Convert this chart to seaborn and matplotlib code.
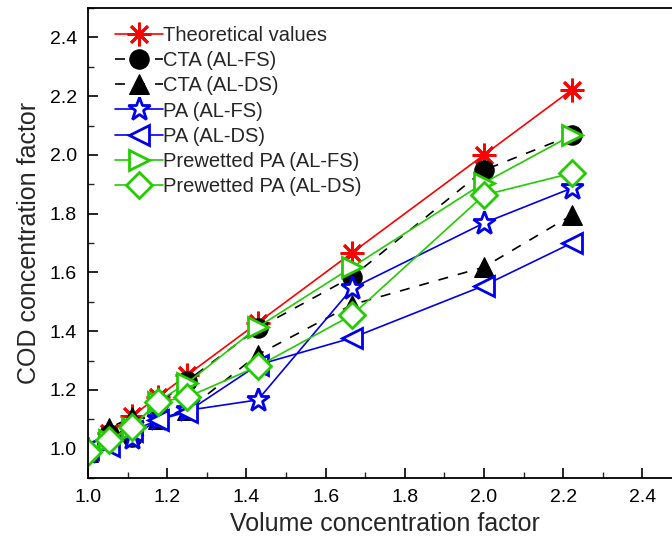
import matplotlib
matplotlib.use("Agg")
import matplotlib.pyplot as plt
import seaborn as sns
import pandas as pd
from matplotlib.ticker import MultipleLocator

sns.set_theme(style="ticks")
plt.rcParams['font.family'] = ['Liberation Sans', 'DejaVu Sans']

vcf = [1.0, 1.053, 1.111, 1.176, 1.25, 1.429, 1.667, 2.0, 2.222]
theoretical = [1.0, 1.053, 1.111, 1.176, 1.25, 1.429, 1.667, 2.0, 2.222]
cta_fs = [0.99, 1.05, 1.04, 1.15, 1.23, 1.41, 1.585, 1.948, 2.067]
cta_ds = [0.99, 1.07, 1.107, 1.10, 1.13, 1.32, 1.49, 1.618, 1.795]
pa_fs = [0.99, 1.03, 1.035, 1.10, 1.13, 1.166, 1.546, 1.768, 1.887]
pa_ds = [1.0, 1.01, 1.06, 1.097, 1.125, 1.285, 1.377, 1.555, 1.70]
pw_fs = [0.99, 1.03, 1.07, 1.16, 1.223, 1.414, 1.618, 1.905, 2.067]
pw_ds = [0.99, 1.03, 1.074, 1.158, 1.175, 1.28, 1.455, 1.863, 1.938]

series = [
    ("Theoretical values", theoretical, dict(color="red", marker=(8, 2, 0), markersize=17, mew=2.0, linestyle="-", mfc="red", mec="red")),
    ("CTA (AL-FS)", cta_fs, dict(color="black", marker="o", markersize=14, linestyle=(0, (6, 6)), mfc="black", mec="black")),
    ("CTA (AL-DS)", cta_ds, dict(color="black", marker="^", markersize=15, linestyle=(0, (6, 6)), mfc="black", mec="black")),
    ("PA (AL-FS)", pa_fs, dict(color="#0000ee", marker="*", markersize=17, linestyle="-", mfc="white", mec="#0000ee", mew=2.0)),
    ("PA (AL-DS)", pa_ds, dict(color="#0000ee", marker="<", markersize=15, linestyle="-", mfc="white", mec="#0000ee", mew=2.0)),
    ("Prewetted PA (AL-FS)", pw_fs, dict(color="#22cc00", marker=">", markersize=15, linestyle="-", mfc="white", mec="#22cc00", mew=2.0)),
    ("Prewetted PA (AL-DS)", pw_ds, dict(color="#22cc00", marker="D", markersize=13, linestyle="-", mfc="white", mec="#22cc00", mew=2.0)),
]

fig = plt.figure(figsize=(6.72, 5.41), dpi=100)
ax = fig.add_axes([88/672, 63/541, 594/672, 470/541])

for label, vals, kw in series:
    df = pd.DataFrame({"x": vcf, "y": vals})
    sns.lineplot(data=df, x="x", y="y", ax=ax, label=label, linewidth=1.2,
                 sort=False, estimator=None, **kw)

ax.set_xlim(1.0, 2.5)
ax.set_ylim(0.9, 2.5)
ax.set_xticks([1.0, 1.2, 1.4, 1.6, 1.8, 2.0, 2.2, 2.4])
ax.set_yticks([1.0, 1.2, 1.4, 1.6, 1.8, 2.0, 2.2, 2.4])
ax.xaxis.set_minor_locator(MultipleLocator(0.1))
ax.yaxis.set_minor_locator(MultipleLocator(0.1))
ax.tick_params(which="major", direction="in", length=7, width=1.2, labelsize=14,
               colors="black", pad=8)
ax.tick_params(which="minor", direction="in", length=4, width=1.0)
for s in ax.spines.values():
    s.set_linewidth(1.3)
    s.set_color("black")
ax.set_xlabel("Volume concentration factor", fontsize=18, labelpad=4)
ax.set_ylabel("COD concentration factor", fontsize=18, labelpad=6)
ax.legend(loc="upper left", frameon=False, fontsize=14.5, handlelength=2.4,
          labelspacing=0.3, handletextpad=0.0, borderaxespad=0.0,
          bbox_to_anchor=(0.032, 0.978))

fig.savefig("out.png", dpi=100)
